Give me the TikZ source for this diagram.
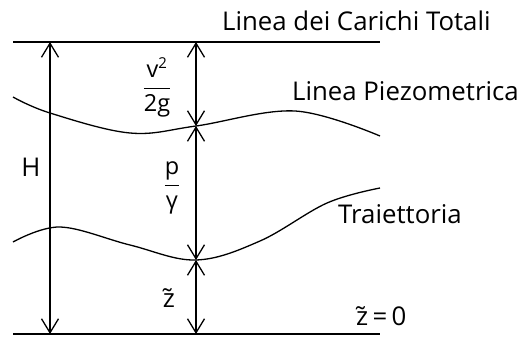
\documentclass[tikz,border=0pt]{standalone}
\usepackage{fontspec}
\usepackage{graphicx}
\setmainfont[Ligatures=NoCommon]{Open Sans}
\usetikzlibrary{arrows.meta}
\newcommand{\ztil}{z^^^^0303}
\begin{document}
\begin{tikzpicture}[x=1pt,y=-1pt,
  lbl/.style={inner sep=0pt,font=\fontsize{25.8}{30}\selectfont},
  frac/.style={inner sep=0pt,font=\fontsize{23.5}{28}\selectfont},
  ln/.style={line width=1.4pt},
  dim/.style={line width=1.3pt,{Straight Barb[length=14pt,width=17pt,line width=1.3pt]}-{Straight Barb[length=14pt,width=17pt,line width=1.3pt]}}]
\useasboundingbox (0,0) rectangle (521,338);
% reference lines
\coordinate (tl) at (13,42);
\coordinate (tr) at (380,42);
\coordinate (bl) at (13,334);
\coordinate (br) at (380,334);
\draw[ln] (tl) -- (tr);
\draw[ln] (bl) -- (br);
% curves
\draw[line width=1.3pt] plot[smooth,tension=0.6] coordinates {(13,97) (50,113) (130,133) (196,126) (295,111) (380,136)};
\draw[line width=1.3pt] plot[smooth,tension=0.6] coordinates {(13,242) (60,227) (130,245) (196,260) (260,241) (327,203) (380,188)};
% dimension points
\coordinate (Ht) at (50,42);
\coordinate (Hb) at (50,334);
\coordinate (Mt) at (196,42);
\coordinate (Mp) at (196,126);
\coordinate (Mz) at (196,260);
\coordinate (Mb) at (196,334);
\draw[dim] (Ht) -- (Hb);
\draw[dim] (Mt) -- (Mp);
\draw[dim] (Mp) -- (Mz);
\draw[dim] (Mz) -- (Mb);
% labels
\node[lbl,anchor=base west] (lct) at (222,30) {Linea dei Carichi Totali};
\node[lbl,anchor=base west] (lp) at (292,100) {Linea Piezometrica};
\node[lbl,anchor=base west] (tr2) at (338,223) {Traiettoria};
\node[lbl,anchor=base west] (z0) at (356,325) {\ztil\,=\,0};
\node[lbl] (H) at (31,167) {H};
\node[frac] (v2g) at (157,87) {$\displaystyle\frac{\mbox{v}^{\mbox{\fontsize{15}{16}\selectfont 2}}}{\mbox{2g}}$};
\node[frac] (pg) at (172,188) {$\displaystyle\frac{\mbox{p}}{\mbox{γ}}$};
\node[lbl,anchor=base] (zt) at (169,307) {\ztil};
\end{tikzpicture}
\end{document}
